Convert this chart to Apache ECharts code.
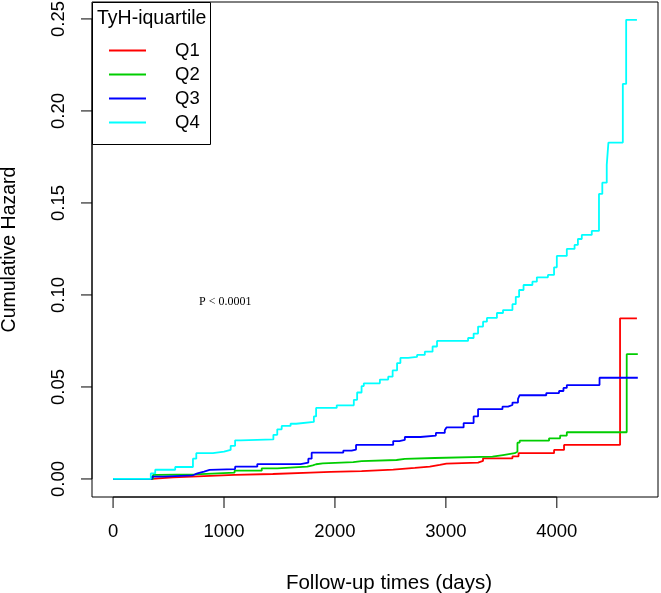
<!DOCTYPE html>
<html>
<head>
<meta charset="utf-8">
<script src="https://cdn.jsdelivr.net/npm/echarts@6/dist/echarts.min.js"></script>
<style>
html,body{margin:0;padding:0;background:#fff;}
#chart{width:661px;height:593px;}
</style>
</head>
<body>
<div id="chart"></div>
<script>
// cumulative hazard steps: [day, value], value holds from that day on
var q1 = [[0,0],[350,0.0009],[540,0.0013],[710,0.0022],[1095,0.0027],[1440,0.0034],[1780,0.0038],[1960,0.0043],[2240,0.0051],[2525,0.006],[2720,0.0067],[2855,0.0076],[2945,0.0083],[3005,0.0089],[3290,0.0098],[3335,0.0112],[3600,0.0123],[3655,0.014],[3975,0.0158],[4065,0.0185],[4570,0.0873],[4722,0.0873]]
var q2 = [[0,0],[360,0.0022],[400,0.0025],[740,0.0034],[1095,0.0045],[1340,0.0058],[1480,0.0067],[1750,0.0074],[1800,0.008],[1830,0.0085],[1890,0.0091],[2165,0.0097],[2240,0.0103],[2555,0.0109],[2630,0.0114],[2900,0.0121],[3420,0.013],[3515,0.014],[3620,0.0148],[3645,0.0197],[3665,0.0208],[3930,0.0221],[4030,0.0236],[4090,0.0254],[4630,0.0678],[4730,0.0678]]
var q3 = [[0,0],[350,0.0013],[450,0.002],[720,0.003],[760,0.004],[820,0.0049],[870,0.0054],[1100,0.0067],[1300,0.0081],[1690,0.0089],[1760,0.011],[1790,0.0143],[2075,0.0154],[2150,0.016],[2190,0.0185],[2525,0.0206],[2580,0.0212],[2630,0.0228],[2770,0.0236],[2910,0.025],[2990,0.0265],[3005,0.028],[3160,0.0304],[3250,0.034],[3290,0.0379],[3510,0.0393],[3560,0.0402],[3600,0.0415],[3650,0.0435],[3665,0.0455],[3905,0.0467],[4020,0.0478],[4060,0.0495],[4090,0.051],[4385,0.055],[4730,0.055]]
var q4 = [[0,0],[340,0.003],[380,0.005],[560,0.0065],[720,0.011],[750,0.014],[900,0.0148],[1000,0.0158],[1060,0.018],[1100,0.021],[1150,0.0215],[1445,0.024],[1480,0.027],[1520,0.0288],[1600,0.030],[1650,0.031],[1810,0.034],[1830,0.0386],[2016,0.040],[2170,0.043],[2200,0.047],[2240,0.0505],[2260,0.052],[2405,0.054],[2480,0.0556],[2520,0.059],[2560,0.063],[2590,0.0658],[2660,0.0663],[2740,0.0674],[2810,0.0692],[2880,0.072],[2920,0.075],[3200,0.0766],[3250,0.079],[3290,0.0828],[3335,0.0855],[3370,0.0875],[3460,0.0902],[3515,0.0918],[3600,0.095],[3630,0.099],[3660,0.1027],[3700,0.1054],[3780,0.1072],[3820,0.1096],[3920,0.1109],[3975,0.115],[4000,0.1212],[4090,0.125],[4160,0.1272],[4190,0.1304],[4225,0.1326],[4315,0.1348],[4380,0.1549],[4410,0.161],[4450,0.1707],[4465,0.1828],[4595,0.2147],[4625,0.2495],[4722,0.2495]]

var groupNames = ['Q1','Q2','Q3','Q4']
var groupColors = ['#ff0000','#00cd00','#0000ff','#00ffff']
var xTicks = [0,1000,2000,3000,4000]
var yTicks = [0,0.05,0.10,0.15,0.20,0.25]

var font = 'Liberation Sans, Arial, sans-serif'
var xRange = [-190, 4912]      // R pads the data range by 4%
var yRange = [-0.0098, 0.2592]
var myChart = echarts.init(document.getElementById('chart'))

var series = []
var all = [q1,q2,q3,q4]
for(var i=0;i<all.length;i++){
    series.push({
        name: groupNames[i],
        type: 'line',
        step: 'end',
        symbol: 'none',
        lineStyle: {color: groupColors[i], width: 1.8},
        itemStyle: {color: groupColors[i]},
        data: all[i]
    })
}

var baseGraphic = [
    {type: 'rect', left: 92, top: 2, z: 0, shape: {width: 118, height: 142},
        style: {fill: '#fff', stroke: '#000', lineWidth: 1}},
    {type: 'text', left: 97, top: 9, z: 1,
        style: {text: 'TyH-iquartile', font: '19.5px ' + font, fill: '#000'}},
    {type: 'text', left: 199, top: 296,
        style: {text: 'P < 0.0001', font: '12px Liberation Serif, Times New Roman, serif', fill: '#000'}}
]

var option = {
    animation: false,
    grid: {left: 92, top: 2, right: 3, bottom: 96, show: true, borderColor: '#000', borderWidth: 1, outerBoundsMode: 'none'},
    xAxis: {
        type: 'value', min: xRange[0], max: xRange[1],
        axisLine: {show: false, onZero: false}, axisTick: {show: false},
        axisLabel: {fontFamily: font, fontSize: 18.5, color: '#000', margin: 25, customValues: xTicks,
            formatter: function(v){ return String(v) }},
        splitLine: {show: false},
        name: 'Follow-up times (days)', nameLocation: 'middle', nameGap: 76,
        nameTextStyle: {fontFamily: font, fontSize: 20.5, color: '#000', padding: [0,0,0,28]}
    },
    yAxis: {
        type: 'value', min: yRange[0], max: yRange[1],
        axisLine: {show: false, onZero: false}, axisTick: {show: false},
        axisLabel: {fontFamily: font, fontSize: 18.5, color: '#000', margin: 24, rotate: 90, customValues: yTicks,
            formatter: function(v){ return v.toFixed(2) }},
        splitLine: {show: false},
        name: 'Cumulative Hazard', nameLocation: 'middle', nameGap: 72,
        nameTextStyle: {fontFamily: font, fontSize: 19.5, color: '#000'}
    },
    legend: {
        orient: 'vertical',
        left: 109, top: 41,
        itemWidth: 37, itemHeight: 1.8, itemGap: 5,
        icon: 'rect',
        padding: 0,
        z: 10,
        data: groupNames,
        textStyle: {fontFamily: font, fontSize: 18.5, lineHeight: 14, color: '#000', padding: [0,0,0,24]}
    },
    graphic: baseGraphic,
    series: series
}
myChart.setOption(option)

// R style outward ticks, placed through the chart's own scales
var tickLen = 11
var g = baseGraphic.slice()
var bottomY = myChart.convertToPixel({xAxisIndex: 0, yAxisIndex: 0}, [xRange[0], yRange[0]])
for(var i=0;i<xTicks.length;i++){
    var p = myChart.convertToPixel({xAxisIndex: 0, yAxisIndex: 0}, [xTicks[i], yRange[0]])
    g.push({type: 'line', z: 5, shape: {x1: p[0], y1: p[1], x2: p[0], y2: p[1] + tickLen},
        style: {stroke: '#000', lineWidth: 1}})
}
for(var i=0;i<yTicks.length;i++){
    var p = myChart.convertToPixel({xAxisIndex: 0, yAxisIndex: 0}, [xRange[0], yTicks[i]])
    g.push({type: 'line', z: 5, shape: {x1: p[0], y1: p[1], x2: p[0] - tickLen, y2: p[1]},
        style: {stroke: '#000', lineWidth: 1}})
}
// axis lines from first to last tick, on the box edge
var x0 = myChart.convertToPixel({xAxisIndex: 0, yAxisIndex: 0}, [xTicks[0], yRange[0]])
var x1 = myChart.convertToPixel({xAxisIndex: 0, yAxisIndex: 0}, [xTicks[xTicks.length-1], yRange[0]])
g.push({type: 'line', z: 5, shape: {x1: x0[0], y1: x0[1], x2: x1[0], y2: x1[1]}, style: {stroke: '#000', lineWidth: 1}})
var y0 = myChart.convertToPixel({xAxisIndex: 0, yAxisIndex: 0}, [xRange[0], yTicks[0]])
var y1 = myChart.convertToPixel({xAxisIndex: 0, yAxisIndex: 0}, [xRange[0], yTicks[yTicks.length-1]])
g.push({type: 'line', z: 5, shape: {x1: y0[0], y1: y0[1], x2: y1[0], y2: y1[1]}, style: {stroke: '#000', lineWidth: 1}})
myChart.setOption({graphic: g})
</script>
</body>
</html>
